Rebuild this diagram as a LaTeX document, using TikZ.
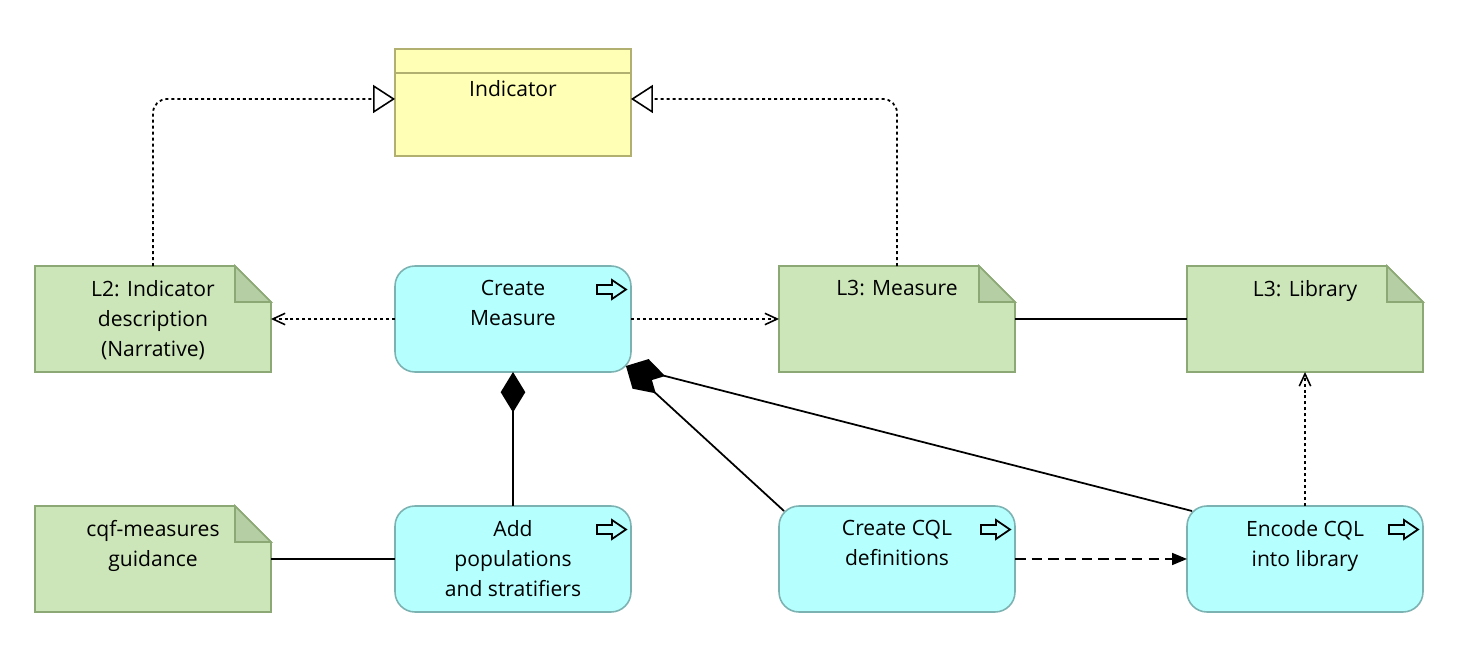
\documentclass[tikz,border=0pt]{standalone}
\usepackage{fontspec}
\setmainfont{Open Sans}
\usetikzlibrary{arrows.meta}

\definecolor{notefill}{RGB}{204,230,185}
\definecolor{notedark}{RGB}{181,206,163}
\definecolor{noteline}{RGB}{140,168,116}
\definecolor{procfill}{RGB}{181,255,255}
\definecolor{procline}{RGB}{125,178,178}
\definecolor{objfill}{RGB}{255,255,181}
\definecolor{objline}{RGB}{178,176,112}

\tikzset{
  boxsize/.style={minimum width=4.72cm, minimum height=2.12cm, inner sep=0pt, outer sep=0pt},
  process/.style={boxsize, rectangle, rounded corners=0.4cm, draw=procline, fill=procfill, line width=0.9pt},
  note/.style={boxsize, rectangle},
  object/.style={boxsize, minimum height=2.14cm, draw=objline, fill=objfill, line width=0.9pt},
  txt/.style={anchor=north, align=center, inner sep=0pt, font=\fontsize{12}{17}\selectfont},
  realize/.style={line width=1pt, dash pattern=on 1.7pt off 1.7pt, rounded corners=8pt,
    -{Triangle[length=12.5pt, width=16pt, fill=white, line width=0.9pt]}},
  dep/.style={line width=1pt, dash pattern=on 1.7pt off 1.7pt,
    -{Straight Barb[length=7pt, width=6.5pt, line width=0.9pt]}},
  assoc/.style={line width=1pt},
  compose/.style={line width=1pt, {Diamond[length=23pt, width=14pt]}-},
  flow/.style={line width=1pt, dash pattern=on 6pt off 3.5pt, -{Triangle[length=8.5pt, width=6.8pt]}},
  icon/.style={line width=1pt, line join=miter}
}

\newcommand{\procicon}[1]{%
  \draw[icon] ([shift={(-34,19)}]#1.north east) -- ++(15,0) -- ++(0,-5) -- ++(14,9.5)
    -- ++(-14,9.5) -- ++(0,-5) -- ++(-15,0) -- cycle;}
\newcommand{\notebody}[1]{%
  \draw[fill=notefill, draw=noteline, line width=0.9pt] (#1.north west) -- ([xshift=-36*0.02cm]#1.north east)
    -- ([yshift=-36*0.02cm]#1.north east) -- (#1.south east) -- (#1.south west) -- cycle;
  \draw[fill=notedark, draw=noteline, line width=0.9pt] ([xshift=-36*0.02cm]#1.north east)
    -- ([xshift=-36*0.02cm, yshift=-36*0.02cm]#1.north east) -- ([yshift=-36*0.02cm]#1.north east) -- cycle;}

\begin{document}
\begin{tikzpicture}[x=0.02cm, y=-0.02cm]
  \useasboundingbox (0,0) rectangle (1471,671);

  % elements
  \node[object] (ind) at (513,102.5) {};
  \draw[draw=objline, line width=0.9pt] ([yshift=-24*0.02cm]ind.north west) -- ([yshift=-24*0.02cm]ind.north east);
  \node[txt] (ind-t) at ([yshift=-31*0.02cm]ind.north) {Indicator};

  \node[note] (l2) at (153,319) {};
  \node[note] (meas) at (897,319) {};
  \node[note] (lib) at (1305,319) {};
  \node[note] (guide) at (153,559) {};
  \foreach \n in {l2, meas, lib, guide}
    \notebody{\n};

  \node[process] (create) at (513,319) {};
  \node[process] (add) at (513,559) {};
  \node[process] (cql) at (897,559) {};
  \node[process] (enc) at (1305,559) {};
  \foreach \n in {create, add, cql, enc}
    \procicon{\n};

  % labels
  \node[txt] (l2-t) at ([yshift=-14*0.02cm]l2.north) {L2: Indicator\\description\\(Narrative)};
  \node[txt] (meas-t) at ([yshift=-14*0.02cm]meas.north) {L3: Measure};
  \node[txt] (lib-t) at ([yshift=-14*0.02cm]lib.north) {L3: Library};
  \node[txt] (guide-t) at ([yshift=-14*0.02cm]guide.north) {cqf-measures\\guidance};
  \node[txt] (create-t) at ([yshift=-14*0.02cm]create.north) {Create\\Measure};
  \node[txt] (add-t) at ([yshift=-14*0.02cm]add.north) {Add\\populations\\and stratifiers};
  \node[txt] (cql-t) at ([yshift=-14*0.02cm]cql.north) {Create CQL\\definitions};
  \node[txt] (enc-t) at ([yshift=-14*0.02cm]enc.north) {Encode CQL\\into library};

  % connectors
  \coordinate (mcorner) at ([shift={(-5,-6)}]create.south east);
  \coordinate (cqlcorner) at ([shift={(5,5)}]cql.north west);
  \coordinate (enccorner) at ([shift={(5,5)}]enc.north west);

  \draw[realize] (l2.north) |- ([yshift=2pt]ind.west);
  \draw[realize] (meas.north) |- ([yshift=2pt]ind.east);
  \draw[dep] (create.west) -- (l2.east);
  \draw[dep] (create.east) -- (meas.west);
  \draw[dep] (enc.north) -- (lib.south);
  \draw[assoc] (meas.east) -- (lib.west);
  \draw[assoc] (guide.east) -- (add.west);
  \draw[compose] (create.south) -- (add.north);
  \draw[compose] (mcorner) -- (cqlcorner);
  \draw[compose] (mcorner) -- (enccorner);
  \draw[flow] (cql.east) -- (enc.west);
\end{tikzpicture}
\end{document}
